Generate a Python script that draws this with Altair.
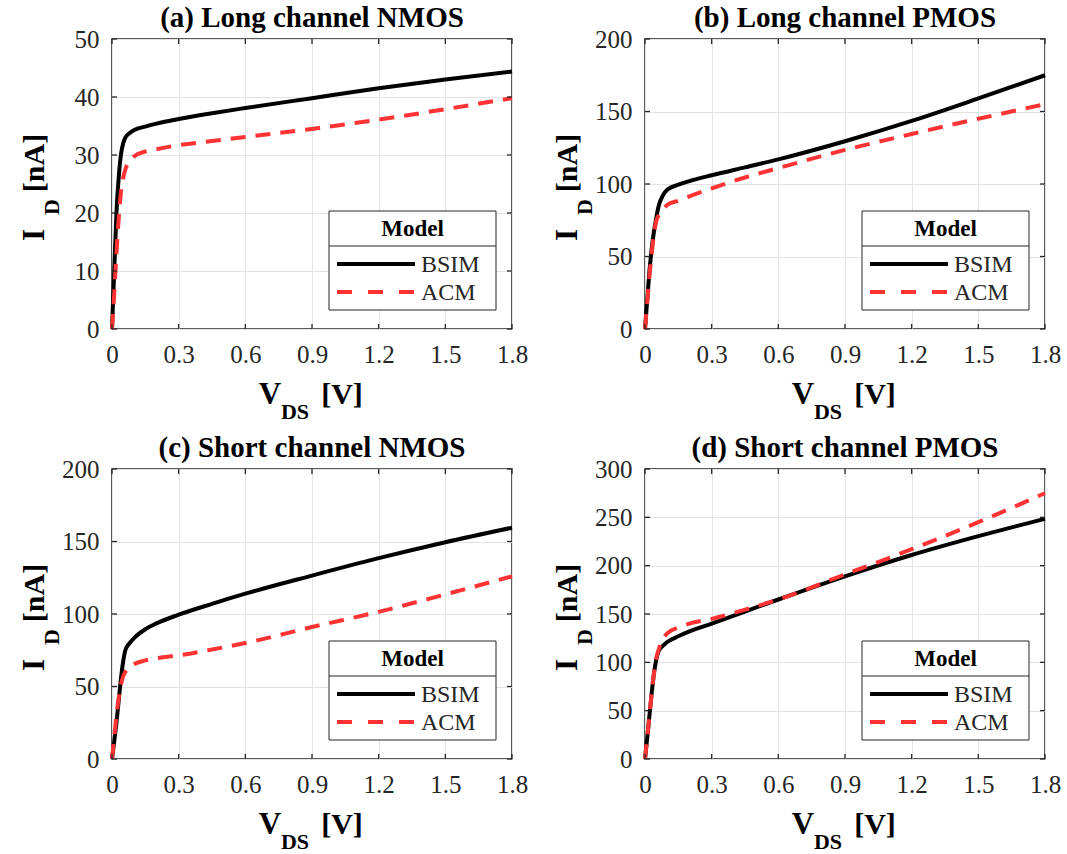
import altair as alt
import pandas as pd

FONT = "Liberation Serif"
INK = "#262626"
RED = "#ff3333"
GRID = "#e3e3e3"
W, H = 400, 290

# Drain-source voltage samples (V) shared by every curve
VDS = [0, 0.01, 0.02, 0.03, 0.04, 0.05, 0.06, 0.08, 0.1, 0.15, 0.2,
       0.3, 0.45, 0.6, 0.9, 1.2, 1.5, 1.8]

# Drain current (nA) for each device and model
BSIM_LONG_N = [0, 10, 20, 26, 30, 32, 33, 33.8, 34.3, 34.9, 35.4,
               36.2, 37.2, 38.1, 39.8, 41.5, 43.0, 44.4]
ACM_LONG_N = [0, 6, 13, 19, 23.5, 26, 27.5, 29, 29.8, 30.6, 31.0,
              31.7, 32.4, 33.1, 34.5, 36.1, 37.9, 39.8]

BSIM_LONG_P = [0, 20, 40, 55, 67, 76, 84, 92, 96, 99.5, 102,
               106, 111.5, 117, 129.5, 143.5, 159, 175]
ACM_LONG_P = [0, 18, 36, 52, 65, 74, 78, 82.5, 85.5, 88.5, 91.5,
              97, 104.5, 111, 123.5, 134.5, 145, 155]

BSIM_SHORT_N = [0, 12, 25, 40, 55, 67, 75, 80, 83.5, 89.5, 93.5,
                99.5, 107, 114, 126.5, 138.5, 149.5, 159.5]
ACM_SHORT_N = [0, 15, 30, 42, 51, 57, 60, 63.5, 65.5, 68, 69.5,
               71.5, 75.5, 80, 91, 101.5, 113.5, 126]

BSIM_SHORT_P = [0, 22, 45, 68, 88, 102, 111, 117, 121, 127, 132,
                140, 152.5, 165, 189, 211, 230.5, 248.5]
ACM_SHORT_P = [0, 22, 45, 68, 88, 103, 112, 124, 130, 136, 140,
               145, 154.5, 165, 191, 217, 245, 275]

X_TICKS = [0, 0.3, 0.6, 0.9, 1.2, 1.5, 1.8]
MODELS = ["BSIM", "ACM"]

ONE = pd.DataFrame({"k": [0]})


def text(label, x, y, size, bold=False, angle=0, align="center", color="#000000"):
    return alt.Chart(ONE).mark_text(
        font=FONT, fontSize=size, fontWeight="bold" if bold else "normal",
        angle=angle, align=align, baseline="alphabetic", color=color,
    ).encode(x=alt.value(x), y=alt.value(y), text=alt.value(label))


def panel(title, bsim, acm, ymax, ystep, anchor=False):
    y_ticks = list(range(0, ymax + 1, ystep))
    rows = []
    for name, series in zip(MODELS, [bsim, acm]):
        for v, i in zip(VDS, series):
            rows.append({"v": v, "i": i, "model": name})
    curves = pd.DataFrame(rows)

    xs = alt.Scale(domain=[0, 1.8], nice=False, zero=False)
    ys = alt.Scale(domain=[0, ymax], nice=False)
    label_style = dict(labelFont=FONT, labelFontSize=25, labelColor=INK,
                       labelFlush=False, grid=True, gridColor=GRID, gridWidth=1,
                       ticks=False, domain=False, title=None)
    xaxis = alt.Axis(values=X_TICKS, format=".1~f", labelPadding=13, **label_style)
    yaxis = alt.Axis(values=y_ticks, labelPadding=13, **label_style)
    X = alt.X("v:Q", scale=xs, axis=xaxis)
    Y = alt.Y("i:Q", scale=ys, axis=yaxis)

    base = alt.Chart(curves)
    bsim_line = base.transform_filter(alt.datum.model == "BSIM").mark_line(
        color="#000000", strokeWidth=4, interpolate="monotone"
    ).encode(x=X, y=Y)
    acm_line = base.transform_filter(alt.datum.model == "ACM").mark_line(
        color=RED, strokeWidth=4, strokeDash=[15, 10], interpolate="monotone"
    ).encode(x=X, y=Y)

    # inward-pointing ticks on all four sides of the box
    xt = alt.Chart(pd.DataFrame({"v": X_TICKS}))
    yt = alt.Chart(pd.DataFrame({"i": y_ticks}))
    tick_style = dict(color=INK, strokeWidth=1.3)
    ticks = [
        xt.mark_rule(**tick_style).encode(x=X, y=alt.value(H), y2=alt.value(H - 5)),
        xt.mark_rule(**tick_style).encode(x=X, y=alt.value(0), y2=alt.value(5)),
        yt.mark_rule(**tick_style).encode(y=Y, x=alt.value(0), x2=alt.value(5)),
        yt.mark_rule(**tick_style).encode(y=Y, x=alt.value(W), x2=alt.value(W - 5)),
    ]

    # legend box with a "Model" header
    lx0, lx1, ly0, ly1, ldiv = 217, 384, 172, 271, 207
    legend = [
        alt.Chart(ONE).mark_rect(fill="white", stroke=INK, strokeWidth=1).encode(
            x=alt.value(lx0), x2=alt.value(lx1), y=alt.value(ly0), y2=alt.value(ly1)),
        alt.Chart(ONE).mark_rule(color=INK, strokeWidth=1).encode(
            x=alt.value(lx0), x2=alt.value(lx1), y=alt.value(ldiv)),
        text("Model", (lx0 + lx1) / 2, 197, 23, bold=True),
        alt.Chart(ONE).mark_rule(color="#000000", strokeWidth=4).encode(
            x=alt.value(225), x2=alt.value(303), y=alt.value(225)),
        alt.Chart(ONE).mark_rule(color=RED, strokeWidth=4, strokeDash=[15, 16]).encode(
            x=alt.value(225), x2=alt.value(303), y=alt.value(253)),
        text("BSIM", 309, 233, 24, align="left", color=INK),
        text("ACM", 309, 261, 24, align="left", color=INK),
    ]

    labels = [
        text(title, W / 2, -12, 29, bold=True),
        # y title: I_D [nA]
        text("I", -68, 202, 31, bold=True, angle=270, align="left"),
        text("D", -53, 168, 22, bold=True, angle=270),
        text("[nA]", -68, 124, 30, bold=True, angle=270),
        # x title: V_DS [V]
        text("V", 158, 365, 31, bold=True),
        text("DS", 183, 380, 22, bold=True),
        text("[V]", 230, 365, 30, bold=True),
    ]

    layers = [bsim_line, acm_line] + ticks + legend + labels
    if anchor:
        layers.append(alt.Chart(ONE).mark_rule(opacity=0).encode(
            x=alt.value(-111), x2=alt.value(-110), y=alt.value(-38)))
    return alt.layer(*layers).properties(width=W, height=H)


pa = panel("(a) Long channel NMOS", BSIM_LONG_N, ACM_LONG_N, 50, 10, anchor=True)
pb = panel("(b) Long channel PMOS", BSIM_LONG_P, ACM_LONG_P, 200, 50)
pc = panel("(c) Short channel NMOS", BSIM_SHORT_N, ACM_SHORT_N, 200, 50)
pd_ = panel("(d) Short channel PMOS", BSIM_SHORT_P, ACM_SHORT_P, 300, 50)

chart = alt.concat(
    pa, pb, pc, pd_, columns=2,
    spacing=alt.RowColnumber(row=140, column=133), bounds="flush",
).properties(
    padding=0, autosize=alt.AutoSizeParams(type="pad"), background="white"
).configure_view(
    stroke=INK, strokeWidth=1.5
).configure_axis(
    labelFont=FONT, labelFontSize=25, labelColor=INK,
    gridColor=GRID, gridWidth=1, gridOpacity=1
)

chart.save("out.html", embed_options={"renderer": "svg", "actions": False})
